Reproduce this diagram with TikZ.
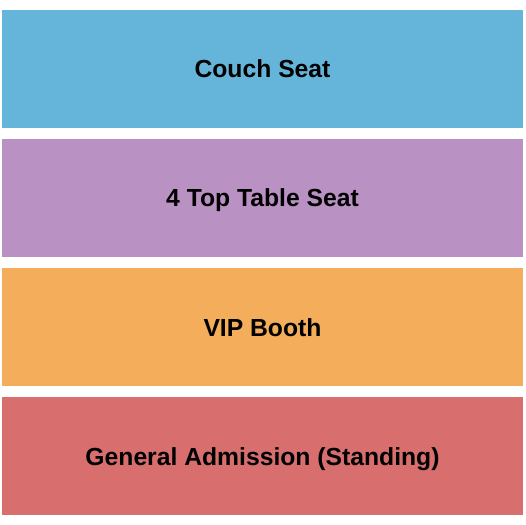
\documentclass[tikz,border=0pt]{standalone}
\usepackage{fontspec}
\setmainfont{Liberation Sans}
\definecolor{cblue}{HTML}{65B5DB}
\definecolor{cpurple}{HTML}{BA91C3}
\definecolor{corange}{HTML}{F3AD5B}
\definecolor{cred}{HTML}{D86E6E}
\tikzset{
  section/.style={draw=none, minimum width=521bp, minimum height=118bp, inner sep=0pt, outer sep=0pt},
  sectionlabel/.style={anchor=base, inner sep=0pt, text=black,
    font=\fontsize{24.7bp}{27bp}\selectfont\bfseries}
}
\begin{document}
\begin{tikzpicture}[x=1bp,y=-1bp]
\useasboundingbox[fill=white] (0,0) rectangle (525,525);
\node[section, fill=cblue] (couch) at (262.5,69) {};
\node[section, fill=cpurple] (table) at (262.5,198) {};
\node[section, fill=corange] (vip) at (262.5,327) {};
\node[section, fill=cred] (ga) at (262.5,456) {};
\node[sectionlabel] (couchlabel) at (262.5,78) {Couch Seat};
\node[sectionlabel] (tablelabel) at (262.5,207) {4 Top Table Seat};
\node[sectionlabel] (viplabel) at (262.5,336) {VIP Booth};
\node[sectionlabel] (galabel) at (262.5,465.5) {General Admission (Standing)};
\end{tikzpicture}
\end{document}
